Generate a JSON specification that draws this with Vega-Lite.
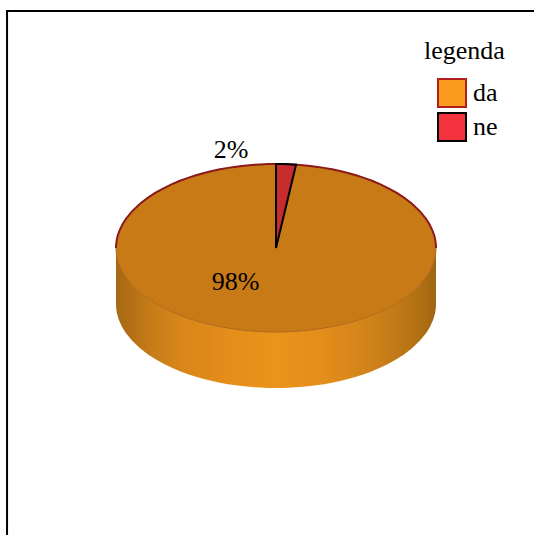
{
  "$schema": "https://vega.github.io/schema/vega-lite/v6.json",
  "width": 534,
  "height": 535,
  "autosize": "none",
  "padding": 0,
  "background": "white",
  "view": {"stroke": null},
  "config": {"font": "Liberation Serif"},
  "datasets": {
    "udjeli": [
      {"odgovor": "da", "udio": 0.98, "x": -25.3, "y": -21.5},
      {"odgovor": "ne", "udio": 0.02, "x": -28.1, "y": 61.0}
    ],
    "okvir": [
      {"korak": 1, "x": 161.25, "y": 148.1},
      {"korak": 2, "x": -168.1, "y": 148.1},
      {"korak": 3, "x": -168.1, "y": -179.375}
    ],
    "klin": [
      {"x": 0, "gore": 52.5, "dole": 0},
      {"x": 5, "gore": 52.43, "dole": 20.79},
      {"x": 10, "gore": 52.24, "dole": 41.57},
      {"x": 12.53, "gore": 52.09, "dole": 52.09}
    ],
    "obod": [
      {"x": -100, "gore": 0, "dole": 0, "dno": -35},
      {"x": -99.9, "gore": 2.35, "dole": -2.35, "dno": -37.35},
      {"x": -99.5, "gore": 5.24, "dole": -5.24, "dno": -40.24},
      {"x": -99, "gore": 7.41, "dole": -7.41, "dno": -42.41},
      {"x": -98, "gore": 10.45, "dole": -10.45, "dno": -45.45},
      {"x": -96, "gore": 14.7, "dole": -14.7, "dno": -49.7},
      {"x": -94, "gore": 17.91, "dole": -17.91, "dno": -52.91},
      {"x": -90, "gore": 22.88, "dole": -22.88, "dno": -57.88},
      {"x": -85, "gore": 27.66, "dole": -27.66, "dno": -62.66},
      {"x": -80, "gore": 31.5, "dole": -31.5, "dno": -66.5},
      {"x": -75, "gore": 34.73, "dole": -34.73, "dno": -69.73},
      {"x": -70, "gore": 37.49, "dole": -37.49, "dno": -72.49},
      {"x": -65, "gore": 39.9, "dole": -39.9, "dno": -74.9},
      {"x": -60, "gore": 42, "dole": -42, "dno": -77},
      {"x": -55, "gore": 43.85, "dole": -43.85, "dno": -78.85},
      {"x": -50, "gore": 45.47, "dole": -45.47, "dno": -80.47},
      {"x": -45, "gore": 46.88, "dole": -46.88, "dno": -81.88},
      {"x": -40, "gore": 48.12, "dole": -48.12, "dno": -83.12},
      {"x": -35, "gore": 49.18, "dole": -49.18, "dno": -84.18},
      {"x": -30, "gore": 50.08, "dole": -50.08, "dno": -85.08},
      {"x": -25, "gore": 50.83, "dole": -50.83, "dno": -85.83},
      {"x": -20, "gore": 51.44, "dole": -51.44, "dno": -86.44},
      {"x": -15, "gore": 51.91, "dole": -51.91, "dno": -86.91},
      {"x": -10, "gore": 52.24, "dole": -52.24, "dno": -87.24},
      {"x": -5, "gore": 52.43, "dole": -52.43, "dno": -87.43},
      {"x": 0, "gore": 52.5, "dole": -52.5, "dno": -87.5},
      {"x": 5, "gore": 52.43, "dole": -52.43, "dno": -87.43},
      {"x": 10, "gore": 52.24, "dole": -52.24, "dno": -87.24},
      {"x": 15, "gore": 51.91, "dole": -51.91, "dno": -86.91},
      {"x": 20, "gore": 51.44, "dole": -51.44, "dno": -86.44},
      {"x": 25, "gore": 50.83, "dole": -50.83, "dno": -85.83},
      {"x": 30, "gore": 50.08, "dole": -50.08, "dno": -85.08},
      {"x": 35, "gore": 49.18, "dole": -49.18, "dno": -84.18},
      {"x": 40, "gore": 48.12, "dole": -48.12, "dno": -83.12},
      {"x": 45, "gore": 46.88, "dole": -46.88, "dno": -81.88},
      {"x": 50, "gore": 45.47, "dole": -45.47, "dno": -80.47},
      {"x": 55, "gore": 43.85, "dole": -43.85, "dno": -78.85},
      {"x": 60, "gore": 42, "dole": -42, "dno": -77},
      {"x": 65, "gore": 39.9, "dole": -39.9, "dno": -74.9},
      {"x": 70, "gore": 37.49, "dole": -37.49, "dno": -72.49},
      {"x": 75, "gore": 34.73, "dole": -34.73, "dno": -69.73},
      {"x": 80, "gore": 31.5, "dole": -31.5, "dno": -66.5},
      {"x": 85, "gore": 27.66, "dole": -27.66, "dno": -62.66},
      {"x": 90, "gore": 22.88, "dole": -22.88, "dno": -57.88},
      {"x": 94, "gore": 17.91, "dole": -17.91, "dno": -52.91},
      {"x": 96, "gore": 14.7, "dole": -14.7, "dno": -49.7},
      {"x": 98, "gore": 10.45, "dole": -10.45, "dno": -45.45},
      {"x": 99, "gore": 7.41, "dole": -7.41, "dno": -42.41},
      {"x": 99.5, "gore": 5.24, "dole": -5.24, "dno": -40.24},
      {"x": 99.9, "gore": 2.35, "dole": -2.35, "dno": -37.35},
      {"x": 100, "gore": 0, "dole": 0, "dno": -35}
    ]
  },
  "encoding": {
    "x": {"field": "x", "type": "quantitative", "axis": null, "scale": {"domain": [-172.5, 161.25], "nice": false, "zero": false}}
  },
  "layer": [
    {
      "data": {"name": "okvir"},
      "mark": {"type": "line", "stroke": "black", "strokeWidth": 2, "strokeCap": "square"},
      "encoding": {
        "y": {"field": "y", "type": "quantitative", "axis": null, "scale": {"domain": [-179.375, 155], "nice": false, "zero": false}},
        "order": {"field": "korak"}
      }
    },
    {
      "data": {"name": "udjeli"},
      "mark": {"type": "point", "filled": true, "shape": "square", "size": 1, "opacity": 1},
      "encoding": {
        "x": {"datum": 0, "type": "quantitative", "axis": null, "scale": {"domain": [-172.5, 161.25], "nice": false, "zero": false}},
        "y": {"datum": 0, "type": "quantitative", "axis": null, "scale": {"domain": [-179.375, 155], "nice": false, "zero": false}},
        "fill": {
          "field": "odgovor", "type": "nominal",
          "scale": {"domain": ["da", "ne"], "range": ["#F99B1C", "#F5333F"]},
          "legend": {
            "title": "legenda",
            "orient": "none",
            "legendX": 424,
            "legendY": 38,
            "padding": 0,
            "symbolType": "square",
            "symbolSize": 784,
            "symbolOpacity": 1,
            "symbolStrokeWidth": 2,
            "symbolOffset": 13,
            "labelOffset": 6,
            "labelFont": "Liberation Serif",
            "labelFontSize": 26,
            "labelColor": "black",
            "titleFont": "Liberation Serif",
            "titleFontSize": 26,
            "titleFontWeight": "normal",
            "titleColor": "black",
            "titlePadding": 14,
            "rowPadding": -2
          }
        },
        "stroke": {
          "field": "odgovor", "type": "nominal",
          "scale": {"domain": ["da", "ne"], "range": ["#B01E1E", "#000000"]}
        }
      }
    },
    {
      "data": {"name": "obod"},
      "mark": {
        "type": "area",
        "color": {
          "gradient": "linear", "x1": 0, "x2": 1, "y1": 0, "y2": 0,
          "stops": [
            {"offset": 0, "color": "#A56814"},
            {"offset": 0.05, "color": "#B57015"},
            {"offset": 0.11, "color": "#C67C18"},
            {"offset": 0.2, "color": "#D8861A"},
            {"offset": 0.36, "color": "#E48E1B"},
            {"offset": 0.5, "color": "#EA941B"},
            {"offset": 0.64, "color": "#E48E1B"},
            {"offset": 0.8, "color": "#CF821A"},
            {"offset": 0.89, "color": "#BE7816"},
            {"offset": 0.95, "color": "#B07014"},
            {"offset": 1, "color": "#A06412"}
          ]
        }
      },
      "encoding": {
        "y": {"field": "dole", "type": "quantitative", "axis": null, "scale": {"domain": [-179.375, 155], "nice": false, "zero": false}},
        "y2": {"field": "dno"}
      }
    },
    {
      "data": {"name": "obod"},
      "mark": {"type": "area", "color": "#C77A16"},
      "encoding": {
        "y": {"field": "gore", "type": "quantitative", "axis": null, "scale": {"domain": [-179.375, 155], "nice": false, "zero": false}},
        "y2": {"field": "dole"}
      }
    },
    {
      "data": {"name": "obod"},
      "mark": {"type": "line", "stroke": "#B0661A", "strokeWidth": 1},
      "encoding": {
        "y": {"field": "dole", "type": "quantitative", "axis": null, "scale": {"domain": [-179.375, 155], "nice": false, "zero": false}}
      }
    },
    {
      "data": {"name": "obod"},
      "mark": {"type": "line", "stroke": "#8C1A1A", "strokeWidth": 2},
      "encoding": {
        "y": {"field": "gore", "type": "quantitative", "axis": null, "scale": {"domain": [-179.375, 155], "nice": false, "zero": false}}
      }
    },
    {
      "data": {"name": "klin"},
      "mark": {"type": "area", "color": "#C62B2E", "stroke": "black", "strokeWidth": 2, "strokeJoin": "miter"},
      "encoding": {
        "y": {"field": "gore", "type": "quantitative", "axis": null, "scale": {"domain": [-179.375, 155], "nice": false, "zero": false}},
        "y2": {"field": "dole"}
      }
    },
    {
      "data": {"name": "udjeli"},
      "mark": {"type": "text", "font": "Liberation Serif", "fontSize": 26, "color": "black", "align": "center", "baseline": "middle"},
      "encoding": {
        "y": {"field": "y", "type": "quantitative", "axis": null, "scale": {"domain": [-179.375, 155], "nice": false, "zero": false}},
        "text": {"field": "udio", "type": "quantitative", "format": ".0%"}
      }
    }
  ]
}
